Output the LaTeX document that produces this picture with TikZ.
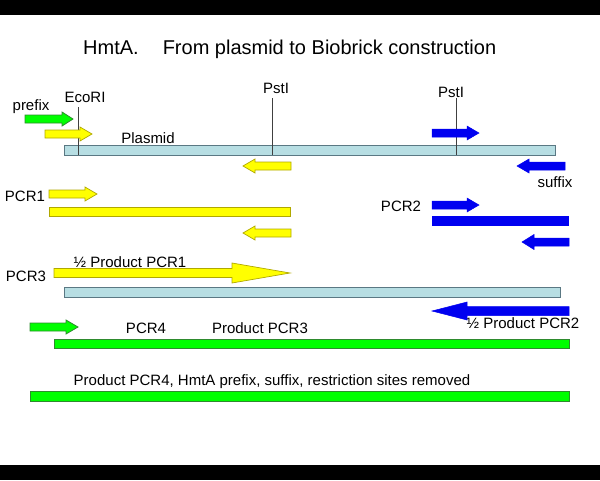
\documentclass[tikz,border=0pt]{standalone}
\usepackage{fontspec}
\setmainfont{Liberation Sans}
\definecolor{ylw}{HTML}{FFFF00}
\definecolor{ylwline}{HTML}{B0A800}
\definecolor{blu}{HTML}{0000F0}
\definecolor{grn}{HTML}{00FF00}
\definecolor{grnline}{HTML}{2E8B2E}
\definecolor{plas}{HTML}{B7DEE3}
\definecolor{plasline}{HTML}{5A7883}
\newcommand{\dnrarr}[7]{\draw[#1] (#2,#4-#5) -- (#3-#7,#4-#5) -- (#3-#7,#4-#6) -- (#3,#4) -- (#3-#7,#4+#6) -- (#3-#7,#4+#5) -- (#2,#4+#5) -- cycle;}
\newcommand{\dnlarr}[7]{\draw[#1] (#2,#4-#5) -- (#3+#7,#4-#5) -- (#3+#7,#4-#6) -- (#3,#4) -- (#3+#7,#4+#6) -- (#3+#7,#4+#5) -- (#2,#4+#5) -- cycle;}
\begin{document}
\begin{tikzpicture}[x=1pt,y=-1pt,
  lbl/.style={font=\fontsize{15}{18}\selectfont, inner sep=0pt, anchor=base},
  ttl/.style={font=\fontsize{20}{24}\selectfont, inner sep=0pt, anchor=base west},
  yel/.style={fill=ylw, draw=ylwline, line width=0.7pt},
  blue/.style={fill=blu, draw=blu, line width=0.5pt},
  gre/.style={fill=grn, draw=grnline, line width=0.8pt},
  pla/.style={fill=plas, draw=plasline, line width=0.8pt},
  site/.style={draw=black!75, line width=0.7pt}]
\useasboundingbox (0,0) rectangle (600,480);
\fill[white] (0,0) rectangle (600,480);
\fill[black] (0,0) rectangle (600,15);
\fill[black] (0,465) rectangle (600,480);
% title
\node[ttl] (title) at (83,54) {HmtA.\hspace{24pt}From plasmid to Biobrick construction};
% plasmid
\draw[pla] (64,145) rectangle (555,155);
\node[lbl] (plasmid) at (148,143) {Plasmid};
\node[lbl] (ecori) at (85,102) {EcoRI};
\node[lbl] (pst1) at (276,93) {PstI};
\node[lbl] (pst2) at (451,97) {PstI};
\coordinate (e1) at (78,107); \coordinate (e2) at (78,155);
\coordinate (p1a) at (272,98); \coordinate (p1b) at (272,155);
\coordinate (p2a) at (456,98); \coordinate (p2b) at (456,155);
\draw[site] (e1) -- (e2);
\draw[site] (p1a) -- (p1b);
\draw[site] (p2a) -- (p2b);
\node[lbl] (prefix) at (31,110) {prefix};
\node[lbl] (suffix) at (555,187) {suffix};
\dnrarr{gre}{25}{73}{119}{4}{7}{11}
\dnrarr{yel}{45}{92}{134}{4}{7}{12}
\dnlarr{yel}{291}{243}{166}{4}{7}{12}
\dnrarr{blue}{432}{479}{133}{4}{7}{12}
\dnlarr{blue}{565}{517}{166}{4}{7}{12}
% PCR1
\node[lbl] (pcr1) at (25,201) {PCR1};
\dnrarr{yel}{49}{97}{194}{4}{7}{12}
\draw[yel] (49,207) rectangle (290,216);
\dnlarr{yel}{291}{243}{233}{4}{7}{12}
% PCR2
\node[lbl] (pcr2) at (401,211) {PCR2};
\dnrarr{blue}{432}{479}{205}{4}{7}{12}
\fill[blu] (432,216) rectangle (569,226);
\dnlarr{blue}{569}{522}{242}{4}{7.5}{12}
% PCR3
\node[lbl] (pcr3) at (26,281) {PCR3};
\node[lbl] (half1) at (130,267) {½ Product PCR1};
\dnrarr{yel}{54}{290}{273}{4.5}{10}{58}
\draw[pla] (64,287) rectangle (560,297);
\dnlarr{blue}{569}{432}{311}{4.5}{9}{35}
\node[lbl] (half2) at (523,328) {½ Product PCR2};
% PCR4
\dnrarr{gre}{30}{78}{327}{4}{7}{12}
\node[lbl] (pcr4) at (146,333) {PCR4};
\node[lbl] (prod3) at (260,333) {Product PCR3};
\draw[gre] (54,339) rectangle (569,348);
% final
\node[lbl] (final) at (272,385) {Product PCR4, HmtA prefix, suffix, restriction sites removed};
\draw[gre] (30,391) rectangle (569,401);
\end{tikzpicture}
\end{document}
